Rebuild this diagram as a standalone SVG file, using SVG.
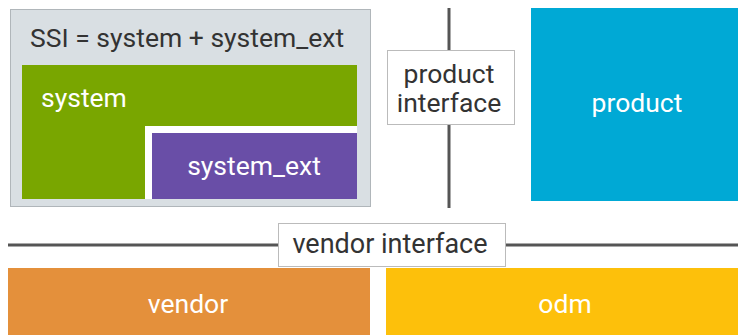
<svg xmlns="http://www.w3.org/2000/svg" width="738" height="335" viewBox="0 0 738 335">
  <style>
    text { font-family: Roboto, "Liberation Sans", sans-serif; font-size: 26.5px; }
    .dark { fill: #333333; }
    .light { fill: #ffffff; }
    .line { stroke: #555555; stroke-width: 3; fill: none; }
    .label { fill: #ffffff; stroke: #bbbbbb; stroke-width: 1; }
  </style>
  <rect width="738" height="335" fill="#ffffff"/>

  <g id="connectors">
    <line class="line" x1="449" y1="8" x2="449" y2="208"/>
    <line class="line" x1="8" y1="245" x2="738" y2="245"/>
  </g>

  <g id="ssi">
    <rect x="10.5" y="9.5" width="360" height="197" fill="#d9dfe3" stroke="#b0b6ba" stroke-width="1"/>
    <text class="dark" x="30" y="47">SSI = system + system_ext</text>
  </g>

  <g id="system">
    <rect x="22" y="65" width="335" height="134" fill="#79a600"/>
    <text class="light" x="41" y="107">system</text>
  </g>

  <g id="system_ext">
    <rect x="145" y="126" width="212" height="73" fill="#ffffff"/>
    <rect x="152" y="133" width="205" height="66" fill="#694ea7"/>
    <text class="light" x="254" y="175" text-anchor="middle">system_ext</text>
  </g>

  <g id="product_interface">
    <rect class="label" x="387.5" y="50.5" width="127" height="74"/>
    <text class="dark" x="449" y="83" text-anchor="middle">product</text>
    <text class="dark" x="449" y="112" text-anchor="middle">interface</text>
  </g>

  <g id="product">
    <rect x="531" y="8" width="207" height="193" fill="#00a9d5"/>
    <text class="light" x="637" y="112" text-anchor="middle">product</text>
  </g>

  <g id="vendor_interface">
    <rect class="label" x="278.5" y="223.5" width="227" height="43"/>
    <text class="dark" x="390" y="253" text-anchor="middle" style="font-size:27px">vendor interface</text>
  </g>

  <g id="vendor">
    <rect x="8" y="268" width="362" height="67" fill="#e4903b"/>
    <text class="light" x="188" y="313" text-anchor="middle">vendor</text>
  </g>

  <g id="odm">
    <rect x="386" y="268" width="352" height="67" fill="#fdc00b"/>
    <text class="light" x="565" y="313" text-anchor="middle">odm</text>
  </g>
</svg>
